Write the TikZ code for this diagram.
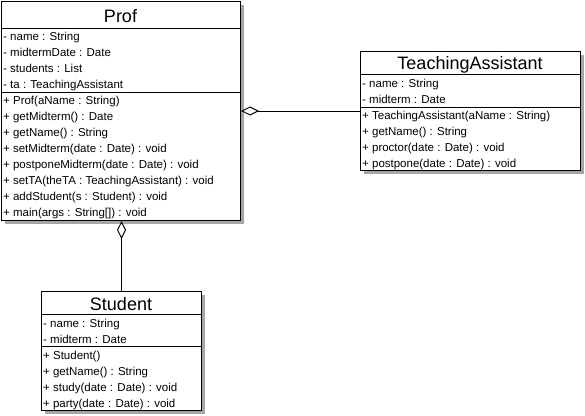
\documentclass[tikz,border=0pt]{standalone}
\usepackage{fontspec}
\setmainfont{Liberation Sans}
\usetikzlibrary{arrows.meta, positioning}

\begin{document}
\begin{tikzpicture}[x=1pt, y=-1pt,
  classbox/.style={draw, line width=1pt, fill=white, anchor=north west, inner sep=0},
  shade/.style={fill=black!35},
  title/.style={anchor=base, inner sep=0, font=\fontsize{18}{20}\selectfont},
  row/.style={anchor=base west, inner sep=0, font=\fontsize{11.5}{13}\selectfont},
  sep/.style={line width=1pt},
  aggr/.style={line width=1pt, -{Diamond[open, length=18pt, width=9pt]}}
]
  \useasboundingbox (0,0) rectangle (585,415);

  % shadows
  \fill [shade] (5,5) rectangle (244,224);
  \fill [shade] (364,55) rectangle (584,174);
  \fill [shade] (45,295) rectangle (205,414);

  % Prof
  \node (prof) [classbox, minimum width=239pt, minimum height=219pt] at (1,1) {};
  \node (proftitle) [title] at (120.5,22) {Prof};
  \draw [sep] (prof.west |- 0,28) -- (prof.east |- 0,28);
  \draw [sep] (prof.west |- 0,92) -- (prof.east |- 0,92);
  \node (pname) [row] at (3,40) {- name : String};
  \node (pdate) [row] at (3,56) {- midtermDate : Date};
  \node (pstud) [row] at (3,72) {- students : List};
  \node (pta) [row] at (3,88) {- ta : TeachingAssistant};
  \node (pctor) [row] at (3,104) {+ Prof(aName : String)};
  \node (pgetmid) [row] at (3,120) {+ getMidterm() : Date};
  \node (pgetname) [row] at (3,136) {+ getName() : String};
  \node (psetmid) [row] at (3,152) {+ setMidterm(date : Date) : void};
  \node (ppost) [row] at (3,168) {+ postponeMidterm(date : Date) : void};
  \node (psetta) [row] at (3,184) {+ setTA(theTA : TeachingAssistant) : void};
  \node (padd) [row] at (3,200) {+ addStudent(s : Student) : void};
  \node (pmain) [row] at (3,216) {+ \underline{main(args : String[]) : void}};

  % TeachingAssistant
  \node (ta) [classbox, minimum width=220pt, minimum height=119pt] at (360,51) {};
  \node (tatitle) [title] at (470,69) {TeachingAssistant};
  \draw [sep] (ta.west |- 0,74) -- (ta.east |- 0,74);
  \draw [sep] (ta.west |- 0,107) -- (ta.east |- 0,107);
  \node (taname) [row] at (362,87) {- name : String};
  \node (tamid) [row] at (362,103) {- midterm : Date};
  \node (tactor) [row] at (362,119) {+ TeachingAssistant(aName : String)};
  \node (tagetname) [row] at (362,135) {+ getName() : String};
  \node (taproc) [row] at (362,151) {+ proctor(date : Date) : void};
  \node (tapost) [row] at (362,167) {+ postpone(date : Date) : void};

  % Student
  \node (student) [classbox, minimum width=160pt, minimum height=119pt] at (41,291) {};
  \node (stitle) [title] at (121,310) {Student};
  \draw [sep] (student.west |- 0,314) -- (student.east |- 0,314);
  \draw [sep] (student.west |- 0,346) -- (student.east |- 0,346);
  \node (sname) [row] at (43,327) {- name : String};
  \node (smid) [row] at (43,343) {- midterm : Date};
  \node (sctor) [row] at (43,359) {+ Student()};
  \node (sgetname) [row] at (43,375) {+ getName() : String};
  \node (sstudy) [row] at (43,391) {+ study(date : Date) : void};
  \node (sparty) [row] at (43,407) {+ party(date : Date) : void};

  % aggregations
  \draw [aggr] (ta.west) -- (ta.west -| prof.east);
  \draw [aggr] (student.north) -- (student.north |- prof.south);
\end{tikzpicture}
\end{document}
